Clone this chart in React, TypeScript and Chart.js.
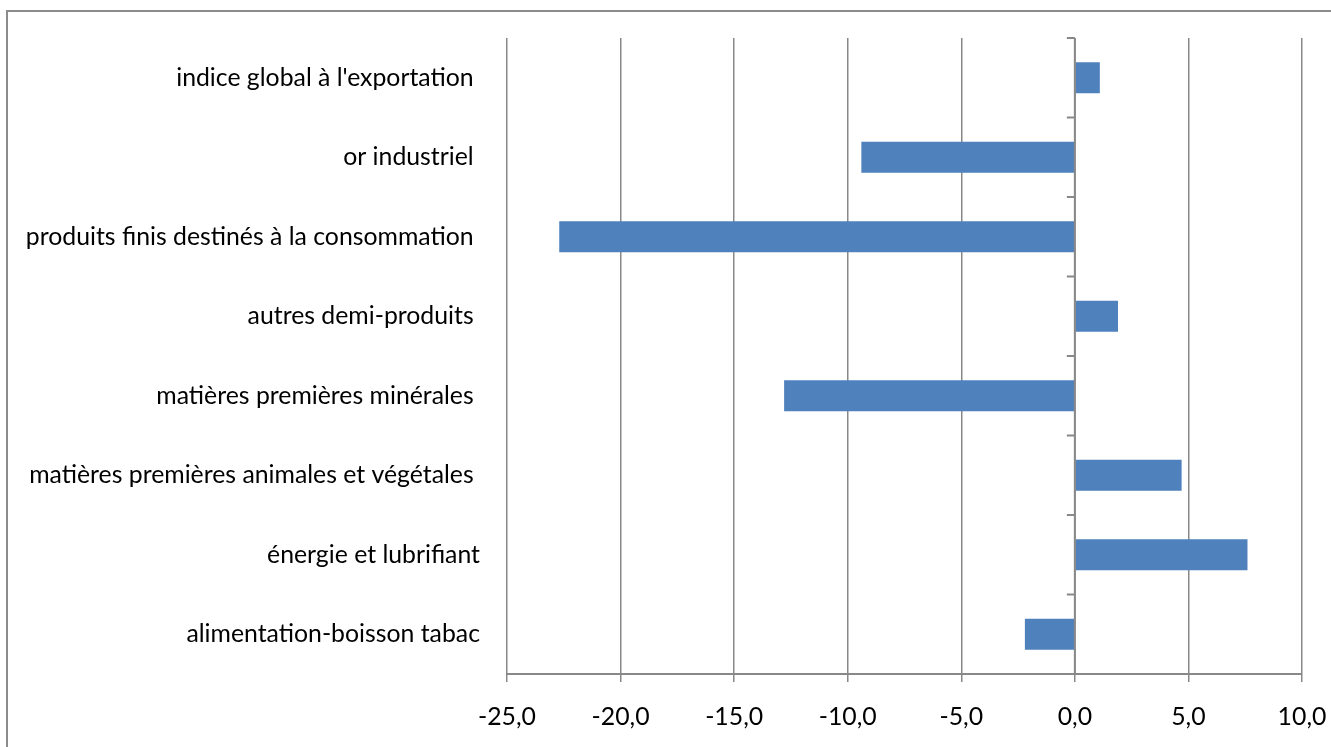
import React, { useEffect, useRef } from "react";
import { Chart, registerables } from "chart.js";

Chart.register(...registerables);

const categories = [
  "indice global à l'exportation ",
  "or industriel ",
  "produits finis destinés à la consommation ",
  "autres demi-produits ",
  "matières premières minérales ",
  "matières premières animales et végétales ",
  "énergie et lubrifiant",
  "alimentation-boisson tabac",
];

const values = [1.1, -9.4, -22.7, 1.9, -12.8, 4.7, 7.6, -2.2];

const xMin = -25;
const xMax = 10;
const xStep = 5;

const BAR_COLOR = "#4F81BD";
const GRID_COLOR = "#888888";
const FONT_FAMILY = "Lato, 'Open Sans', sans-serif";
const FONT_SIZE = 24.8;

const zeroAxisPlugin = {
  id: "zeroAxis",
  afterDatasetsDraw(chart: any) {
    const { ctx, chartArea, scales } = chart;
    const x = scales.x;
    const y = scales.y;
    const px = x.getPixelForValue(0);
    ctx.save();
    ctx.strokeStyle = GRID_COLOR;
    ctx.lineWidth = 2;
    ctx.beginPath();
    ctx.moveTo(px, chartArea.top);
    ctx.lineTo(px, chartArea.bottom);
    for (let i = 0; i <= categories.length; i++) {
      const py = y.getPixelForValue(i - 0.5);
      ctx.moveTo(px - 8, py);
      ctx.lineTo(px, py);
    }
    ctx.stroke();
    ctx.restore();
  },
};

export default function App() {
  const canvasRef = useRef<HTMLCanvasElement | null>(null);

  useEffect(() => {
    if (!canvasRef.current) return;
    const chart = new Chart(canvasRef.current, {
      type: "bar",
      data: {
        labels: categories,
        datasets: [
          {
            data: values,
            backgroundColor: BAR_COLOR,
            borderWidth: 0,
            categoryPercentage: 1,
            barPercentage: 0.39,
          },
        ],
      },
      options: {
        indexAxis: "y",
        animation: false,
        responsive: true,
        maintainAspectRatio: false,
        layout: { padding: { top: 38, right: 29, bottom: 0, left: 0 } },
        plugins: {
          legend: { display: false },
          tooltip: { enabled: false },
          title: { display: false },
        },
        scales: {
          x: {
            type: "linear",
            min: xMin,
            max: xMax,
            ticks: {
              stepSize: xStep,
              color: "#000",
              padding: 20,
              font: { family: FONT_FAMILY, size: FONT_SIZE },
              callback: (v: any) => Number(v).toFixed(1).replace(".", ","),
            },
            grid: {
              color: GRID_COLOR,
              lineWidth: 1.5,
              tickLength: 8,
              drawTicks: true,
            },
            border: { display: true, color: GRID_COLOR, width: 2 },
            afterFit: (scale: any) => {
              scale.height = 73;
              scale.paddingLeft = 0;
              scale.paddingRight = 0;
            },
          },
          y: {
            type: "category",
            grid: { display: false, drawTicks: false },
            border: { display: false },
            ticks: {
              color: "#000",
              padding: 27,
              font: { family: FONT_FAMILY, size: FONT_SIZE },
            },
            afterFit: (scale: any) => {
              scale.width = 507;
              scale.paddingTop = 0;
              scale.paddingBottom = 0;
            },
          },
        },
      },
      plugins: [zeroAxisPlugin],
    });
    return () => chart.destroy();
  }, []);

  return (
    <div
      style={{
        position: "fixed",
        left: 0,
        top: 0,
        width: 1331,
        height: 747,
        overflow: "hidden",
        background: "#fff",
      }}
    >
      <div
        style={{
          position: "absolute",
          left: 6,
          top: 10,
          width: 1500,
          height: 900,
          border: "2px solid #8c8c8c",
          boxSizing: "border-box",
        }}
      />
      <div style={{ position: "absolute", left: 0, top: 0, width: 1331, height: 747 }}>
        <canvas ref={canvasRef} />
      </div>
    </div>
  );
}
